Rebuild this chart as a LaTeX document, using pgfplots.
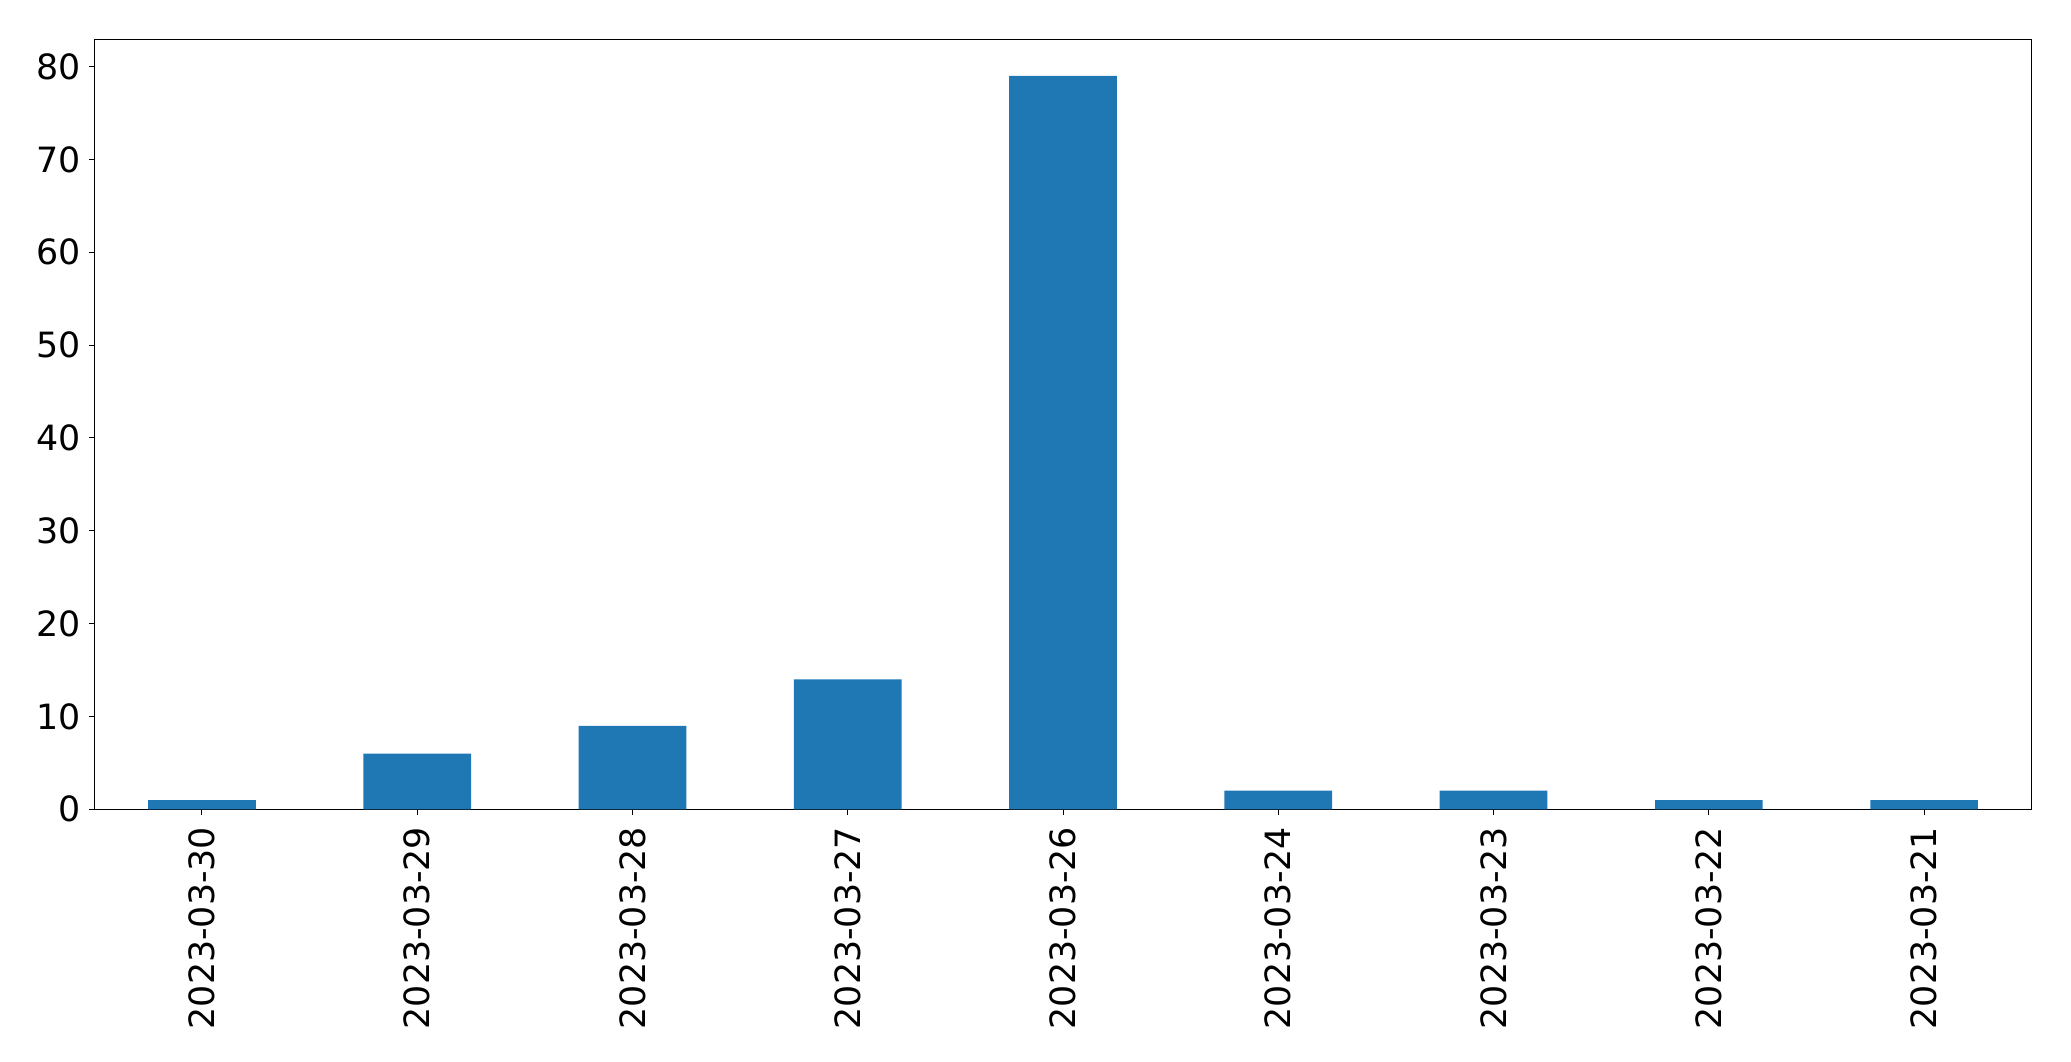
\documentclass[border=0pt]{standalone}
\usepackage{pgfplots}
\pgfplotsset{compat=1.18}
\usepackage{fontspec}
\setmainfont{DejaVu Sans}
\definecolor{mplblue}{HTML}{1F77B4}
\begin{document}
\begin{tikzpicture}
\begin{axis}[
  name=ax,
  width=968.7pt, height=385pt,
  scale only axis,
  xmin=-0.5, xmax=8.5,
  ymin=0, ymax=82.95,
  xtick={0,...,8},
  xticklabels={2023-03-30,2023-03-29,2023-03-28,2023-03-27,2023-03-26,2023-03-24,2023-03-23,2023-03-22,2023-03-21},
  ytick={0,10,20,30,40,50,60,70,80},
  x tick label style={rotate=90, anchor=east, inner sep=0pt, xshift=0pt},
  xticklabel shift=6pt,
  yticklabel shift=4pt,
  y tick label style={inner sep=0pt},
  tick label style={font=\fontsize{17.4}{20}\selectfont},
  /pgf/number format/assume math mode=true,
  tick align=outside,
  major tick length=2.6pt,
  tick style={black, line width=0.5pt},
  xtick pos=bottom, ytick pos=left,
  axis line style={line width=0.5pt},
  ybar, bar width=0.5,
]
\addplot[fill=mplblue, draw=none] coordinates {(0,1) (1,6) (2,9) (3,14) (4,79) (5,2) (6,2) (7,1) (8,1)};
\end{axis}
\path ([shift={(-47.15pt,-125.85pt)}]ax.south west) rectangle ([shift={(19.65pt,19.65pt)}]ax.north east);
\end{tikzpicture}
\end{document}
